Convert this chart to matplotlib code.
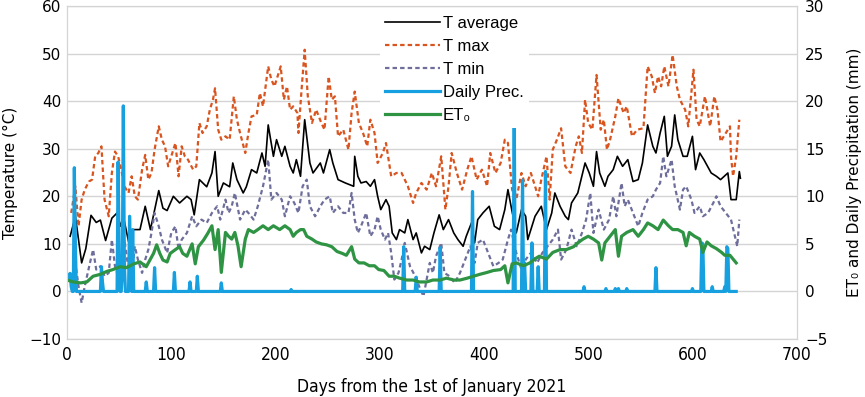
import numpy as np
import matplotlib
matplotlib.use("Agg")
import matplotlib.pyplot as plt
from matplotlib import font_manager as fm

# T average (°C)
tavg_days = [3, 8, 14, 18, 23, 28, 32, 37, 43, 48, 51, 54, 59, 64, 70, 75, 80, 88, 92, 96,
             102, 108, 115, 119, 122, 127, 134, 139, 142, 145, 150, 156, 159, 163, 169, 172,
             177, 182, 187, 190, 193, 198, 201, 206, 209, 214, 217, 220, 224, 228, 233, 236,
             243, 246, 252, 255, 260, 267, 275, 276, 279, 282, 287, 291, 295, 298, 301, 306,
             309, 312, 316, 319, 324, 327, 332, 335, 340, 343, 348, 352, 357, 361, 366, 371,
             375, 380, 383, 388, 391, 394, 399, 405, 410, 415, 420, 423, 426, 431, 436, 440,
             442, 445, 449, 455, 460, 465, 468, 473, 478, 481, 484, 490, 497, 501, 505, 508,
             511, 516, 519, 524, 528, 533, 538, 543, 548, 552, 557, 562, 565, 569, 573, 576,
             580, 583, 586, 591, 595, 600, 603, 607, 611, 618, 623, 627, 634, 637, 642, 645, 646]
tavg = [11.6, 15.8, 6.0, 9.0, 16.0, 14.5, 15.0, 10.7, 15.4, 16.5, 13.7, 15.8, 10.5, 13.0, 13.0,
        17.9, 13.0, 21.2, 17.5, 17.0, 20.0, 18.6, 20.0, 19.3, 16.1, 23.5, 22.0, 24.9, 29.4, 20.0,
        22.8, 22.0, 27.0, 23.5, 20.7, 22.0, 25.6, 24.9, 29.1, 26.3, 35.0, 28.4, 31.9, 28.4, 30.5,
        26.3, 24.9, 27.7, 24.2, 36.1, 27.0, 24.9, 27.0, 24.9, 29.8, 27.0, 23.5, 22.8, 22.1, 28.4,
        24.2, 22.8, 23.1, 22.1, 23.5, 20.0, 17.2, 19.3, 17.9, 12.3, 10.9, 13.0, 12.3, 15.1, 10.9,
        12.3, 8.1, 9.5, 8.8, 12.3, 16.1, 13.0, 15.1, 12.3, 10.9, 9.5, 11.6, 14.4, 10.2, 15.1,
        16.5, 17.9, 13.7, 13.0, 17.2, 21.4, 17.9, 12.3, 17.2, 15.8, 10.9, 13.0, 15.8, 17.9, 13.0,
        16.5, 20.7, 17.9, 15.8, 15.1, 18.6, 20.7, 27.0, 24.9, 22.1, 29.4, 24.9, 22.1, 24.2, 25.6,
        28.4, 26.3, 27.7, 23.1, 23.5, 27.0, 35.0, 30.5, 29.1, 33.3, 36.8, 28.4, 30.5, 37.1, 31.9,
        28.4, 28.4, 32.6, 25.6, 29.1, 27.7, 24.9, 24.2, 23.5, 24.9, 19.3, 19.3, 25.2, 23.8]

# T max (°C)
tmax_days = [4, 8, 11, 14, 17, 21, 24, 27, 30, 33, 36, 40, 43, 46, 49, 52, 55, 59, 62, 65, 68,
             72, 75, 78, 81, 84, 88, 91, 94, 97, 100, 104, 107, 110, 113, 116, 121, 124, 127,
             130, 134, 137, 140, 142, 145, 148, 152, 156, 160, 163, 166, 171, 174, 177, 182,
             185, 188, 193, 196, 199, 202, 205, 208, 211, 214, 217, 221, 222, 225, 228, 231,
             235, 239, 244, 247, 251, 254, 257, 260, 265, 270, 273, 276, 280, 284, 288, 291,
             295, 298, 303, 306, 311, 316, 321, 327, 332, 335, 340, 345, 350, 354, 359, 363,
             366, 369, 374, 379, 384, 388, 393, 398, 403, 406, 411, 416, 420, 423, 427, 431,
             436, 440, 445, 449, 452, 455, 460, 463, 466, 470, 474, 478, 483, 488, 491, 494,
             497, 500, 504, 508, 512, 515, 518, 521, 526, 529, 534, 537, 542, 547, 553, 557,
             561, 564, 567, 570, 573, 577, 581, 585, 588, 593, 596, 601, 604, 607, 612, 617,
             621, 624, 627, 632, 636, 637, 639, 642, 645]
tmax = [16.5, 22.1, 13.7, 19.3, 21.4, 23.1, 23.5, 28.4, 29.1, 30.5, 19.3, 15.8, 24.9, 29.4, 28.4,
        25.6, 22.1, 20.7, 24.2, 20.0, 19.3, 25.6, 28.7, 23.5, 24.9, 29.8, 34.7, 31.9, 30.5, 26.3,
        28.4, 31.2, 24.2, 30.5, 28.4, 27.7, 25.6, 26.3, 35.4, 33.3, 34.7, 38.2, 40.3, 42.7, 34.0,
        31.9, 32.6, 31.9, 41.0, 36.1, 33.3, 29.1, 33.3, 36.8, 37.1, 41.7, 38.9, 47.3, 44.5, 43.1,
        45.2, 47.3, 40.3, 43.1, 38.2, 38.9, 37.5, 33.3, 42.4, 50.8, 41.0, 35.4, 38.2, 35.4, 34.0,
        45.2, 40.3, 41.0, 32.6, 34.0, 29.8, 37.5, 42.0, 35.4, 33.3, 30.5, 36.1, 33.3, 27.0, 29.1,
        31.2, 24.2, 24.9, 24.9, 22.1, 18.6, 20.7, 22.8, 21.4, 24.9, 22.1, 28.4, 17.2, 22.1, 29.1,
        24.9, 21.4, 25.6, 28.4, 23.5, 25.6, 22.1, 29.1, 24.9, 27.0, 31.9, 31.2, 21.4, 19.3, 24.9,
        22.1, 24.9, 22.1, 20.0, 23.5, 28.4, 19.3, 29.8, 31.9, 34.3, 26.3, 24.9, 30.5, 32.6, 29.1,
        40.3, 35.4, 34.0, 45.5, 34.0, 36.1, 29.8, 31.9, 36.8, 40.6, 37.5, 38.9, 32.6, 34.0, 34.3,
        47.3, 45.2, 41.7, 45.2, 43.1, 47.3, 43.1, 49.7, 43.1, 40.3, 38.2, 34.7, 46.6, 36.1, 34.7,
        41.0, 34.7, 41.0, 38.2, 31.5, 33.3, 34.7, 28.4, 24.2, 28.4, 36.1]

# T min (°C)
tmin_days = [5, 8, 11, 14, 17, 22, 25, 28, 32, 36, 40, 43, 46, 49, 52, 55, 59, 62, 65, 68, 72,
             75, 78, 81, 84, 88, 91, 96, 100, 104, 107, 110, 115, 120, 124, 129, 134, 139, 144,
             147, 152, 155, 158, 161, 166, 171, 174, 179, 183, 188, 193, 196, 201, 206, 209,
             214, 218, 222, 226, 230, 233, 238, 243, 247, 252, 255, 260, 265, 270, 273, 276,
             279, 282, 287, 291, 295, 298, 301, 305, 308, 311, 314, 318, 321, 324, 329, 334,
             339, 342, 345, 348, 351, 354, 359, 362, 367, 372, 377, 382, 387, 391, 394, 399,
             404, 409, 414, 418, 423, 426, 431, 436, 440, 445, 451, 456, 461, 466, 471, 474,
             479, 484, 489, 494, 498, 502, 505, 510, 515, 520, 524, 527, 532, 535, 538, 543,
             548, 552, 557, 562, 565, 569, 572, 575, 580, 583, 588, 591, 594, 599, 602, 607,
             610, 615, 620, 623, 627, 632, 637, 640, 643, 645]
tmin = [2.5, 6.0, 1.1, -2.4, 1.1, 6.0, 8.8, 4.6, 5.3, 3.2, 3.9, 10.9, 5.3, 3.2, 6.0, 10.9, 4.6,
        3.2, 9.5, 6.7, 3.9, 6.7, 8.8, 12.3, 16.5, 13.7, 10.9, 8.1, 12.3, 13.7, 8.8, 10.9, 12.3,
        15.8, 13.7, 15.1, 14.4, 16.5, 17.9, 15.1, 19.3, 16.5, 17.9, 20.7, 15.1, 17.2, 16.5, 15.1,
        17.9, 22.1, 27.7, 19.3, 20.7, 19.3, 15.8, 20.0, 18.6, 16.5, 22.1, 23.5, 17.9, 15.8, 17.9,
        19.3, 20.0, 16.5, 17.9, 16.5, 16.5, 20.7, 15.1, 12.3, 13.7, 16.5, 11.6, 13.0, 15.8, 13.0,
        10.9, 12.3, 8.1, 2.5, 3.9, 6.7, 10.2, 5.3, 3.2, 0.4, -1.0, 2.5, 6.0, 3.9, 7.4, 10.2, 3.9,
        3.2, 1.8, 3.9, 6.7, 9.5, 6.0, 10.2, 10.9, 8.1, 5.3, 6.0, 6.7, 10.9, 13.0, 8.1, 4.6, 6.7,
        8.1, 6.0, 8.1, 9.5, 10.9, 13.0, 6.7, 8.8, 13.0, 9.5, 12.3, 15.1, 20.7, 12.3, 17.2, 13.0,
        15.1, 20.0, 15.8, 22.8, 17.9, 19.3, 16.5, 13.7, 16.5, 19.3, 20.0, 21.4, 22.8, 28.4, 24.2,
        27.7, 22.1, 17.2, 21.4, 22.1, 19.3, 16.5, 17.9, 15.8, 16.5, 18.6, 20.0, 17.9, 16.5, 15.1,
        12.3, 9.5, 15.1]

# ET0 (mm), right axis
et0_days = [0, 6, 13, 19, 25, 32, 38, 44, 51, 57, 64, 70, 76, 83, 86, 89, 92, 96, 99, 104, 108,
            111, 115, 120, 123, 126, 131, 135, 139, 142, 145, 148, 152, 155, 158, 161, 164, 167,
            171, 174, 179, 183, 188, 193, 198, 204, 209, 214, 217, 220, 224, 227, 230, 235, 239,
            244, 249, 254, 259, 264, 268, 273, 276, 280, 285, 290, 295, 299, 304, 309, 314, 319,
            326, 332, 338, 345, 351, 358, 364, 371, 377, 384, 390, 396, 403, 409, 416, 420, 423,
            427, 431, 438, 444, 450, 453, 460, 466, 473, 479, 486, 490, 495, 500, 505, 510, 513,
            516, 521, 526, 529, 532, 537, 543, 548, 553, 557, 562, 567, 572, 577, 581, 586, 591,
            594, 597, 602, 607, 610, 614, 618, 623, 628, 631, 636, 639, 642]
et0 = [1.2, 1.0, 0.9, 1.0, 1.6, 1.8, 2.1, 2.3, 2.6, 2.5, 2.9, 3.1, 2.6, 4.0, 4.9, 4.0, 3.3, 3.1,
       4.0, 4.4, 4.7, 4.0, 3.7, 5.0, 2.9, 4.7, 5.4, 6.1, 6.9, 4.4, 6.5, 2.0, 6.2, 5.8, 5.5, 6.2,
       4.8, 2.6, 5.5, 6.5, 6.2, 6.5, 6.9, 6.5, 6.9, 6.5, 6.9, 6.5, 5.8, 6.2, 6.5, 6.5, 5.8, 5.5,
       5.2, 5.0, 4.9, 4.7, 4.2, 4.0, 3.8, 4.7, 3.4, 3.0, 3.0, 2.7, 2.7, 2.3, 2.2, 1.6, 1.6, 1.4,
       1.2, 1.2, 1.0, 1.0, 1.2, 1.2, 1.4, 1.2, 1.2, 1.4, 1.6, 1.8, 2.0, 2.2, 2.3, 2.7, 0.9, 2.9,
       3.0, 2.7, 3.0, 3.5, 3.7, 3.4, 4.1, 4.4, 4.4, 4.7, 5.1, 5.5, 5.8, 5.5, 5.1, 3.3, 5.1, 5.8,
       6.5, 3.7, 5.8, 6.2, 6.5, 5.8, 6.5, 7.2, 6.9, 6.5, 7.5, 6.9, 6.5, 6.5, 6.2, 4.8, 6.2, 5.8,
       5.5, 4.1, 5.2, 4.8, 4.5, 4.1, 3.8, 3.8, 3.4, 3.0]

# daily precipitation (mm): rainy days only, every other day is zero
rain_days = [0, 1, 2, 3, 4, 7, 8, 33, 34, 49, 50, 53, 54, 55, 60, 61, 63, 76, 84, 103, 118, 125,
             148, 215, 323, 335, 358, 389, 429, 437, 439, 446, 452, 459, 496, 517, 526, 529, 537,
             565, 600, 609, 610, 619, 631, 633, 634]
rain_mm = [1.5, 1.8, 1.2, 1.9, 0.5, 13.0, 5.0, 2.6, 1.0, 13.6, 4.0, 2.0, 19.5, 3.0, 7.9, 3.0,
           6.5, 1.0, 2.5, 2.0, 1.0, 1.6, 0.9, 0.2, 4.7, 1.5, 4.6, 10.5, 19.7, 11.7, 3.0, 5.1, 2.6,
           12.6, 0.5, 0.3, 0.3, 0.3, 0.3, 2.5, 0.3, 5.1, 5.0, 0.5, 0.5, 4.7, 4.5]
last_day = 642

prec_days = np.arange(last_day + 1)
prec = np.zeros(last_day + 1)
prec[rain_days] = rain_mm

grid_col = "#d4d4d4"

# narrow font for the x axis, if there is one
try:
    fm.findfont(fm.FontProperties(family="Liberation Sans Narrow"), fallback_to_default=False)
    narrow = dict(family="Liberation Sans Narrow")
except Exception:
    narrow = dict(family="DejaVu Sans", stretch="condensed")

fig, ax = plt.subplots(figsize=(8.65, 3.97), dpi=100)
fig.subplots_adjust(left=0.0775, right=0.921, top=0.985, bottom=0.146)
ax2 = ax.twinx()

l1, = ax.plot(tavg_days, tavg, color="black", lw=1.2, label="T average")
l2, = ax.plot(tmax_days, tmax, color="#d9541e", lw=1.6, ls=(0, (2, 1.4)), label="T max")
l3, = ax.plot(tmin_days, tmin, color="#6e6e9c", lw=1.6, ls=(0, (2, 1.4)), label="T min")
l4, = ax2.plot(prec_days, prec, color="#17a0e0", lw=2.3, label="Daily Prec.")
l5, = ax2.plot(et0_days, et0, color="#2e9444", lw=2.3, label="ET\u2080")

ax.set_xlim(0, 700)
ax.set_ylim(-10, 60)
ax2.set_ylim(-5, 30)
ax.set_xticks(range(0, 701, 100))
ax.set_yticks(range(-10, 61, 10))
ax2.set_yticks(range(-5, 31, 5))
ax.grid(axis="y", color=grid_col, lw=1)
ax.set_axisbelow(True)

for a in (ax, ax2):
    a.tick_params(length=0, labelsize=11)
    for s in a.spines.values():
        s.set_color(grid_col)
ax.tick_params(axis="y", pad=4)
ax.tick_params(axis="x", pad=5)
ax2.tick_params(axis="y", pad=6)
for t in ax.get_xticklabels():
    t.set(fontsize=12.5, **narrow)

ax.set_xlabel("Days from the 1st of January 2021", fontsize=12.5, labelpad=10, **narrow)
ax.set_ylabel("Temperature (°C)", fontsize=11, labelpad=8)
ax2.set_ylabel("ET\u2080 and Daily Precipitation (mm)", fontsize=11, labelpad=14)

leg = ax2.legend(handles=[l1, l2, l3, l4, l5], loc="upper left",
                 bbox_to_anchor=(0.417, 1.01), frameon=True,
                 prop=dict(family=["Liberation Sans", "DejaVu Sans"], size=12),
                 handlelength=3.3, labelspacing=0.48, handletextpad=0.2,
                 borderpad=0.3)
leg.get_frame().set_facecolor("white")
leg.get_frame().set_edgecolor("none")
leg.get_frame().set_alpha(1)

fig.savefig("out.png", dpi=100)
